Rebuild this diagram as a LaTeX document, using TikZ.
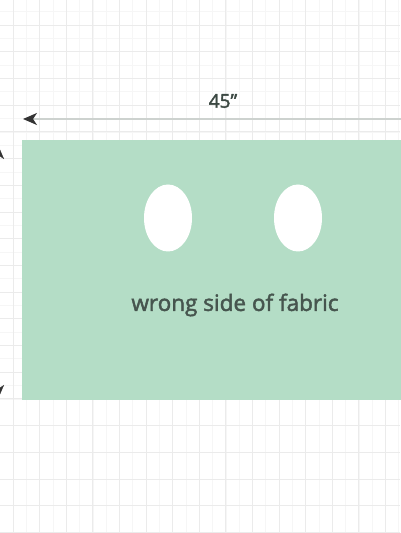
\documentclass[tikz,border=0pt]{standalone}
\usepackage{fontspec}
\setmainfont{Open Sans}[FakeBold=2]
\usetikzlibrary{arrows.meta,shapes.geometric}
\definecolor{fabric}{HTML}{B4DDC6}
\definecolor{gridc}{HTML}{EBEBEB}
\definecolor{gridf}{HTML}{F6F6F6}
\definecolor{dimline}{HTML}{CDD2CF}
\definecolor{txt}{HTML}{46554E}
\tikzset{
  hole/.style={fill=white, draw=none},
  dimarrow/.style={draw=dimline, line width=2pt, -{Stealth[length=14pt,width=12pt,inset=4pt,color=black!80]}},
  sidearrow/.style={draw=white, line width=0.3pt, -{Stealth[length=14pt,width=12pt,inset=4pt,color=black!80]}},
}
\begin{document}
\begin{tikzpicture}[x=1pt,y=1pt]
\useasboundingbox (0,0) rectangle (400,533);
\fill[white] (0,0) rectangle (400,533);
% fine grid
\foreach \i in {0,...,30} {
  \draw[gridf, line width=0.5pt] ({13.3*\i-0.3},0) -- ({13.3*\i-0.3},533);
  \draw[gridf, line width=0.5pt] (0,{533-(-1.7+13.35*\i)}) -- (400,{533-(-1.7+13.35*\i)});
}
% main grid
\foreach \i in {0,...,15} {
  \draw[gridc, line width=0.7pt] ({13+26.6*\i},0) -- ({13+26.6*\i},533);
}
\foreach \i in {0,...,20} {
  \draw[gridc, line width=0.7pt] (0,{533-(25+26.7*\i)}) -- (400,{533-(25+26.7*\i)});
}
% fabric
\node[fill=fabric, draw=none, minimum width=390pt, minimum height=260pt, inner sep=0pt, anchor=north west] (fabric) at (22,393) {};
% holes
\node[hole, ellipse, minimum width=48pt, minimum height=67pt, inner sep=0pt] (h1) at (168,315) {};
\node[hole, ellipse, minimum width=48pt, minimum height=67pt, inner sep=0pt] (h2) at (298,315) {};
\node[text=txt, font=\fontsize{22.5}{27}\selectfont, inner sep=0pt] (lbl) at (235,228) {wrong side of fabric};
% dimension
\coordinate (dR) at (402,414);
\coordinate (dL) at (23,414);
\draw[dimarrow] (dR) -- (dL);
\node[text=txt!85!black, font=\fontsize{19}{22}\selectfont, inner sep=0pt] (dim) at (223,432) {45"};
% left side arrowheads (vertical dimension, mostly off-picture)
\coordinate (vt) at (-2,388);
\coordinate (vb) at (-2,134);
\draw[sidearrow] (-2,300) -- (vt);
\draw[sidearrow] (-2,230) -- (vb);
\end{tikzpicture}
\end{document}
